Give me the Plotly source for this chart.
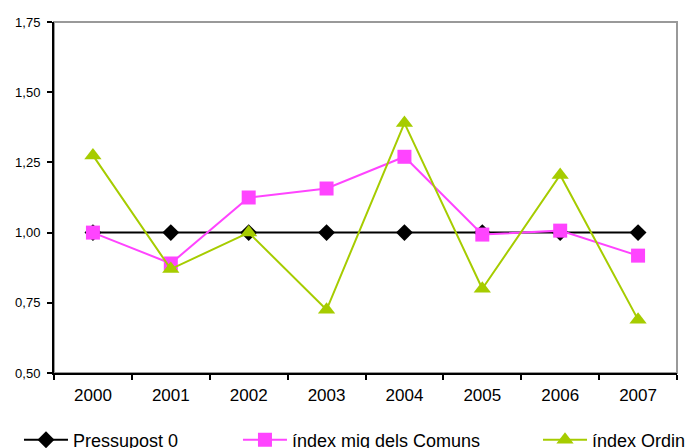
import plotly.graph_objects as go

years = ["2000", "2001", "2002", "2003", "2004", "2005", "2006", "2007"]
pressupost = [1.00, 1.00, 1.00, 1.00, 1.00, 1.00, 1.00, 1.00]
index_comuns = [1.00, 0.89, 1.125, 1.157, 1.27, 0.993, 1.007, 0.918]
index_ordino = [1.275, 0.87, 1.00, 0.725, 1.39, 0.80, 1.205, 0.69]
y_ticks = [0.50, 0.75, 1.00, 1.25, 1.50, 1.75]
y_labels = ["0,50", "0,75", "1,00", "1,25", "1,50", "1,75"]

fig = go.Figure()
fig.add_trace(go.Scatter(x=years, y=pressupost, name="Pressupost 0", mode="lines+markers",
                         line=dict(color="#000000", width=2),
                         marker=dict(symbol="diamond", size=13, color="#000000"),
                         legend="legend"))
fig.add_trace(go.Scatter(x=years, y=index_comuns, name="índex mig dels Comuns", mode="lines+markers",
                         line=dict(color="#FF44FF", width=2),
                         marker=dict(symbol="square", size=14, color="#FF44FF"),
                         legend="legend2"))
fig.add_trace(go.Scatter(x=years, y=index_ordino, name="índex Ordino", mode="lines+markers",
                         line=dict(color="#A6CC00", width=2),
                         marker=dict(symbol="triangle-up", size=15, color="#A6CC00"),
                         legend="legend3"))

font = "Liberation Sans, Arial, sans-serif"
leg = dict(y=-0.191, xref="paper", yref="paper", xanchor="left", yanchor="middle",
           font=dict(size=18), bgcolor="rgba(0,0,0,0)", itemwidth=44)
fig.update_layout(
    width=693, height=448,
    margin=dict(l=46, r=24, t=14, b=83, autoexpand=False),
    plot_bgcolor="white", paper_bgcolor="white",
    font=dict(family=font, color="#000000"),
    showlegend=True,
    legend=dict(leg, x=-0.0562),
    legend2=dict(leg, x=0.2953),
    legend3=dict(leg, x=0.7769),
    xaxis=dict(type="category", range=[-0.5, 7.5], showline=True, linecolor="#000000", linewidth=2,
               ticks="outside", tickson="boundaries", ticklen=5, tickcolor="#000000", tickwidth=2,
               showgrid=False, tickfont=dict(size=17), zeroline=False, tickangle=0,
               ticklabelstandoff=6),
    yaxis=dict(range=[0.5, 1.75], tickvals=y_ticks, ticktext=y_labels, showline=True,
               linecolor="#000000", linewidth=2, ticks="outside", ticklen=5, tickcolor="#000000",
               tickwidth=2, showgrid=False, tickfont=dict(size=13), zeroline=False,
               ticklabelstandoff=4),
    shapes=[dict(type="rect", xref="paper", yref="paper", x0=0, x1=1, y0=0, y1=1,
                 line=dict(color="#999999", width=2), layer="below")],
)
fig.write_html("out.html")
